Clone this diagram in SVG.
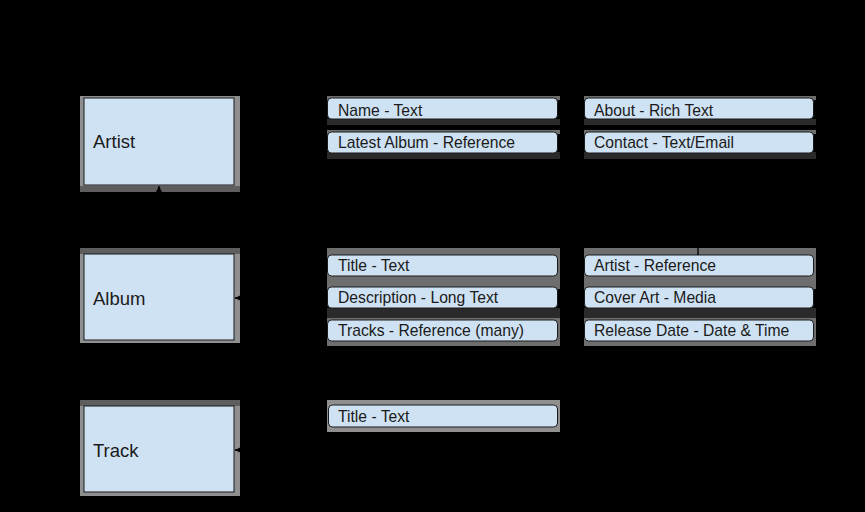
<svg xmlns="http://www.w3.org/2000/svg" width="865" height="512" viewBox="0 0 865 512">
<defs>
<style>
.bg{fill:#000}
.shadow{fill:#8f8f8f}
.shadowB{fill:#5e5e5e}
.box{fill:#cfe2f3;stroke:#1a1a1a;stroke-width:1}
.fshadow{fill:#6e6e6e}
.fshadowB{fill:#2a2a2a}
.field{fill:#cfe2f3;stroke:#1a1a1a;stroke-width:1}
.lbl{font-family:"Liberation Sans",Arial,sans-serif;font-size:18.5px;fill:#1a1a1a}
.ftxt{font-family:"Liberation Sans",Arial,sans-serif;font-size:15.7px;fill:#1a1a1a}
.conn{fill:none;stroke:#000;stroke-width:1.3}
</style>
<marker id="arr" viewBox="0 0 10 10" refX="10" refY="5" markerWidth="6" markerHeight="6" orient="auto" markerUnits="userSpaceOnUse">
<path d="M0,0 L10,5 L0,10 z" fill="#000"/>
</marker>
</defs>
<rect class="bg" x="0" y="0" width="865" height="512"/>

<g id="artist">
<rect class="shadow" x="80" y="96" width="160" height="96"/>
<rect class="shadowB" x="80" y="186" width="160" height="6"/>
<rect class="box" x="84" y="98" width="150" height="87"/>
<text class="lbl" x="93" y="148">Artist</text>
</g>
<g id="album">
<rect class="shadow" x="80" y="248" width="160" height="95"/>
<rect class="shadowB" x="80" y="248" width="160" height="6"/>
<rect class="box" x="84" y="254" width="150" height="86"/>
<text class="lbl" x="93" y="305">Album</text>
</g>
<g id="track">
<rect class="shadow" x="80" y="400" width="160" height="96"/>
<rect class="shadowB" x="80" y="400" width="160" height="6"/>
<rect class="box" x="84" y="406" width="150" height="86"/>
<text class="lbl" x="93" y="457">Track</text>
</g>

<g id="artist-name">
<rect class="fshadow" x="327" y="96" width="233" height="4"/>
<rect class="fshadowB" x="327" y="119" width="233" height="6"/>
<rect class="field" x="327.5" y="98" width="230" height="21" rx="4"/>
<text class="ftxt" x="338" y="115.5">Name - Text</text>
</g>
<g id="artist-latest-album">
<rect class="fshadow" x="327" y="130" width="233" height="4"/>
<rect class="fshadowB" x="327" y="152" width="233" height="7"/>
<rect class="field" x="327.5" y="132" width="230" height="21" rx="4"/>
<text class="ftxt" x="338" y="148">Latest Album - Reference</text>
</g>
<g id="artist-about">
<rect class="fshadow" x="584" y="96" width="232" height="4"/>
<rect class="fshadowB" x="584" y="119" width="232" height="6"/>
<rect class="field" x="584.5" y="98" width="229" height="21" rx="4"/>
<text class="ftxt" x="594" y="115.5">About - Rich Text</text>
</g>
<g id="artist-contact">
<rect class="fshadow" x="584" y="130" width="232" height="4"/>
<rect class="fshadowB" x="584" y="152" width="232" height="7"/>
<rect class="field" x="584.5" y="132" width="229" height="21" rx="4"/>
<text class="ftxt" x="594" y="148">Contact - Text/Email</text>
</g>

<g id="album-title">
<rect class="fshadow" x="327" y="248" width="233" height="33"/>
<rect class="field" x="327.5" y="255" width="230" height="21" rx="4"/>
<text class="ftxt" x="338" y="271">Title - Text</text>
</g>
<g id="album-description">
<rect class="fshadow" x="327" y="281" width="233" height="8"/>
<rect class="fshadowB" x="327" y="308" width="233" height="10"/>
<rect class="field" x="327.5" y="287" width="230" height="21" rx="4"/>
<text class="ftxt" x="338" y="303">Description - Long Text</text>
</g>
<g id="album-tracks">
<rect class="fshadow" x="327" y="318" width="233" height="28"/>
<rect class="field" x="327.5" y="320" width="230" height="21" rx="4"/>
<text class="ftxt" x="338" y="336">Tracks - Reference (many)</text>
</g>
<g id="album-artist">
<rect class="fshadow" x="584" y="248" width="232" height="33"/>
<rect class="field" x="584.5" y="255" width="229" height="21" rx="4"/>
<text class="ftxt" x="594" y="271">Artist - Reference</text>
</g>
<g id="album-cover">
<rect class="fshadow" x="584" y="281" width="232" height="8"/>
<rect class="fshadowB" x="584" y="308" width="232" height="10"/>
<rect class="field" x="584.5" y="287" width="229" height="21" rx="4"/>
<text class="ftxt" x="594" y="303">Cover Art - Media</text>
</g>
<g id="album-release">
<rect class="fshadow" x="584" y="318" width="232" height="28"/>
<rect class="field" x="584.5" y="320" width="229" height="21" rx="4"/>
<text class="ftxt" x="594" y="336">Release Date - Date &amp; Time</text>
</g>

<g id="track-title">
<rect class="shadow" x="327" y="400" width="233" height="32"/>
<rect class="field" x="328.5" y="405" width="229" height="22" rx="4"/>
<text class="ftxt" x="338" y="422">Title - Text</text>
</g>

<g id="connectors">
<path class="conn" d="M698,255 V220 H159 V186" marker-end="url(#arr)"/>
<path class="conn" d="M327,142 H285 V298 H235" marker-end="url(#arr)"/>
<path class="conn" d="M327,330 H300 V450 H235" marker-end="url(#arr)"/>
</g>
</svg>
